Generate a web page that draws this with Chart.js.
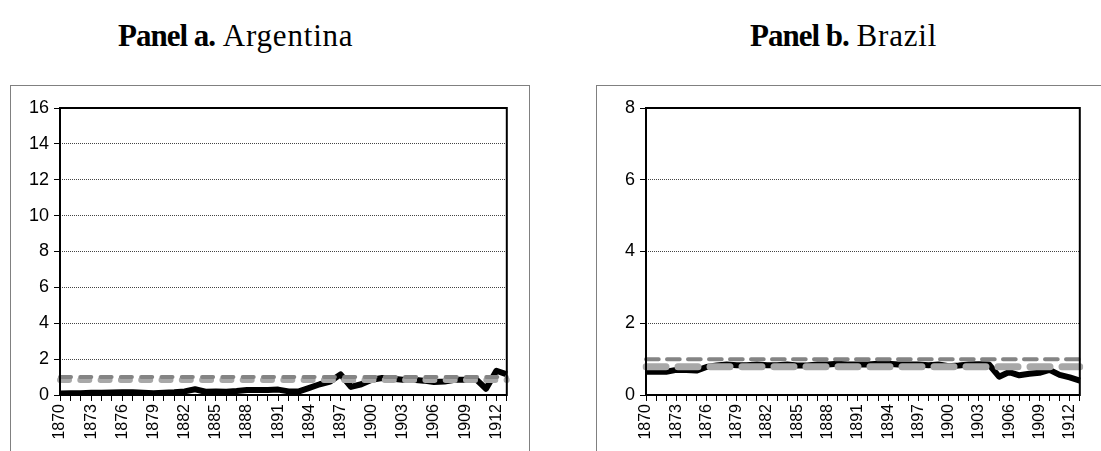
<!DOCTYPE html>
<html>
<head>
<meta charset="utf-8">
<script src="https://cdn.jsdelivr.net/npm/chart.js@4.4.1/dist/chart.umd.min.js"></script>
<style>
  html, body { margin: 0; padding: 0; background: #fff; width: 1101px; height: 451px; overflow: hidden; }
  .title { position: absolute; top: 21px; font: 31px "Liberation Serif", "Times New Roman", serif; line-height: 30px; white-space: nowrap; color: #000; }
  .title b { letter-spacing: -1px; }
  .title span { letter-spacing: 0.8px; }
  .panel { position: absolute; top: 85px; height: 400px; border: 1px solid #808080; background: #fff; }
  .panel canvas { position: absolute; left: 0; top: 0; }
</style>
</head>
<body>
<div class="title" style="left:118px"><b>Panel a.</b> <span>Argentina</span></div>
<div class="title" style="left:750px"><b>Panel b.</b> <span>Brazil</span></div>

<div class="panel" style="left:10px; width:518px;">
  <canvas id="chartA" width="518" height="365"></canvas>
</div>
<div class="panel" style="left:596px; width:600px;">
  <canvas id="chartB" width="505" height="365"></canvas>
</div>

<script>
// categories
const years = [
  1870, 1871, 1872, 1873, 1874, 1875, 1876, 1877, 1878, 1879,
  1880, 1881, 1882, 1883, 1884, 1885, 1886, 1887, 1888, 1889,
  1890, 1891, 1892, 1893, 1894, 1895, 1896, 1897, 1898, 1899,
  1900, 1901, 1902, 1903, 1904, 1905, 1906, 1907, 1908, 1909,
  1910, 1911, 1912, 1913
];

// Panel a - Argentina
const argSeries = [
  0.08, 0.10, 0.10, 0.12, 0.13, 0.14, 0.15, 0.15, 0.12, 0.10,
  0.12, 0.15, 0.20, 0.32, 0.18, 0.20, 0.18, 0.22, 0.28, 0.28,
  0.28, 0.30, 0.20, 0.20, 0.40, 0.60, 0.75, 1.15, 0.45, 0.60,
  0.85, 0.95, 0.90, 0.85, 0.85, 0.80, 0.72, 0.75, 0.85, 0.85,
  0.90, 0.35, 1.35, 1.15
];
const argParity = [
  1, 1, 1, 1, 1, 1, 1, 1, 1, 1,
  1, 1, 1, 1, 1, 1, 1, 1, 1, 1,
  1, 1, 1, 1, 1, 1, 1, 1, 1, 1,
  1, 1, 1, 1, 1, 1, 1, 1, 1, 1,
  1, 1, 1, 1
];
const argMean = [
  0.83, 0.83, 0.83, 0.83, 0.83, 0.83, 0.83, 0.83, 0.83, 0.83,
  0.83, 0.83, 0.83, 0.83, 0.83, 0.83, 0.83, 0.83, 0.83, 0.83,
  0.83, 0.83, 0.83, 0.83, 0.83, 0.83, 0.83, 0.83, 0.83, 0.83,
  0.83, 0.83, 0.83, 0.83, 0.83, 0.83, 0.83, 0.83, 0.83, 0.83,
  0.83, 0.83, 0.83, 0.83
];
const argTicks = [0, 2, 4, 6, 8, 10, 12, 14, 16];

// Panel b - Brazil
const braSeries = [
  0.65, 0.65, 0.65, 0.70, 0.70, 0.68, 0.78, 0.82, 0.85, 0.83,
  0.83, 0.85, 0.83, 0.83, 0.85, 0.82, 0.82, 0.85, 0.85, 0.87,
  0.85, 0.85, 0.85, 0.87, 0.87, 0.85, 0.85, 0.85, 0.83, 0.85,
  0.80, 0.82, 0.85, 0.86, 0.85, 0.51, 0.64, 0.55, 0.59, 0.62,
  0.70, 0.56, 0.49, 0.40
];
const braParity = [
  1, 1, 1, 1, 1, 1, 1, 1, 1, 1,
  1, 1, 1, 1, 1, 1, 1, 1, 1, 1,
  1, 1, 1, 1, 1, 1, 1, 1, 1, 1,
  1, 1, 1, 1, 1, 1, 1, 1, 1, 1,
  1, 1, 1, 1
];
const braMean = [
  0.79, 0.79, 0.79, 0.79, 0.79, 0.79, 0.79, 0.79, 0.79, 0.79,
  0.79, 0.79, 0.79, 0.79, 0.79, 0.79, 0.79, 0.79, 0.79, 0.79,
  0.79, 0.79, 0.79, 0.79, 0.79, 0.79, 0.79, 0.79, 0.79, 0.79,
  0.79, 0.79, 0.79, 0.79, 0.79, 0.79, 0.79, 0.79, 0.79, 0.79,
  0.79, 0.79, 0.79, 0.79
];
const braTicks = [0, 2, 4, 6, 8];

Chart.defaults.font.family = '"Liberation Sans", Arial, sans-serif';
Chart.defaults.color = '#000';

// black frame round the plot area
const framePlugin = {
  id: 'frame',
  afterDatasetsDraw(chart) {
    const a = chart.chartArea;
    const ctx = chart.ctx;
    ctx.save();
    ctx.strokeStyle = '#000';
    ctx.lineWidth = 2;
    ctx.strokeRect(a.left, a.top, a.right - a.left, a.bottom - a.top);
    ctx.restore();
  }
};

function makeChart(id, series, parity, mean, ticks, opts) {
  const ctx = document.getElementById(id).getContext('2d');
  return new Chart(ctx, {
    type: 'line',
    data: {
      labels: years,
      datasets: [
        {
          data: parity,
          borderColor: '#848484',
          borderWidth: opts.parityWidth,
          borderDash: opts.parityDash,
          borderCapStyle: 'round',
          pointRadius: 0,
          order: 0
        },
        {
          data: mean,
          borderColor: '#a8a8a8',
          borderWidth: opts.meanWidth,
          borderDash: opts.meanDash,
          borderCapStyle: 'round',
          pointRadius: 0,
          order: 1
        },
        {
          data: series,
          borderColor: '#000',
          borderWidth: 6,
          borderJoinStyle: 'round',
          borderCapStyle: 'butt',
          pointRadius: 0,
          tension: 0,
          order: 2
        }
      ]
    },
    options: {
      responsive: false,
      animation: false,
      layout: { padding: { top: 22, right: opts.right, left: 0, bottom: 0 } },
      plugins: { legend: { display: false }, tooltip: { enabled: false } },
      scales: {
        x: {
          offset: false,
          grid: { drawOnChartArea: false, drawTicks: true, tickLength: 6, tickColor: '#000', tickWidth: 1 },
          border: { display: false },
          ticks: {
            autoSkip: false,
            minRotation: 90,
            maxRotation: 90,
            padding: 3,
            font: { size: 16 },
            callback: (v, i) => (i % 3 === 0 ? years[i] : '')
          },
          afterFit(scale) { scale.height = 56; }
        },
        y: {
          min: ticks[0],
          max: ticks[ticks.length - 1],
          afterBuildTicks(scale) { scale.ticks = ticks.map(v => ({ value: v })); },
          grid: { color: '#444', lineWidth: 1, tickLength: 6, tickColor: '#000', tickBorderDash: [] },
          border: { display: false, dash: [1, 1] },
          ticks: { padding: 5, font: { size: 18 } },
          afterFit(scale) { scale.width = 49; }
        }
      }
    },
    plugins: [framePlugin]
  });
}

makeChart('chartA', argSeries, argParity, argMean, argTicks, {
  right: 18,
  parityWidth: 4, parityDash: [11, 9.3],
  meanWidth: 6, meanDash: [9, 11.3]
});

makeChart('chartB', braSeries, braParity, braMean, braTicks, {
  right: 5,
  parityWidth: 4, parityDash: [12.7, 8.3],
  meanWidth: 7, meanDash: [20, 12]
});
</script>
</body>
</html>
